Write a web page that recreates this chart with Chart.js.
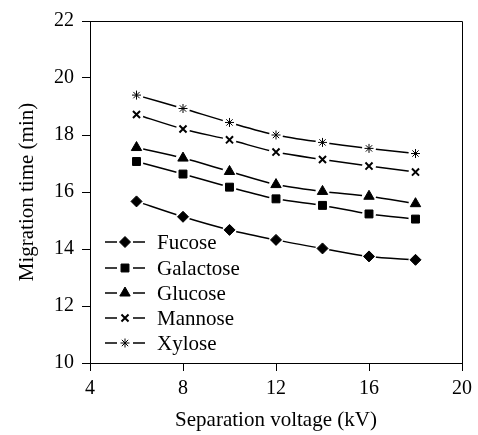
<!DOCTYPE html>
<html>
<head>
<meta charset="utf-8">
<script src="https://cdn.jsdelivr.net/npm/chart.js@4.4.0/dist/chart.umd.min.js"></script>
<style>
  html, body { margin: 0; padding: 0; background: #fff; }
  #wrap { width: 478px; height: 435px; }
</style>
</head>
<body>
<div id="wrap"><canvas id="c" width="478" height="435"></canvas></div>
<script>
const voltages = [6, 8, 10, 12, 14, 16, 18];
const fucose    = [15.67, 15.13, 14.67, 14.32, 14.02, 13.74, 13.62];
const galactose = [17.07, 16.63, 16.17, 15.76, 15.53, 15.23, 15.05];
const glucose   = [17.56, 17.19, 16.72, 16.26, 16.02, 15.85, 15.59];
const mannose   = [18.72, 18.21, 17.83, 17.40, 17.14, 16.91, 16.70];
const xylose    = [19.40, 18.93, 18.44, 18.00, 17.74, 17.53, 17.35];
const seriesNames = ['Fucose', 'Galactose', 'Glucose', 'Mannose', 'Xylose'];
const xTicks = [4, 8, 12, 16, 20];
const yTicks = [10, 12, 14, 16, 18, 20, 22];

const FONT = '"Liberation Serif", "Times New Roman", serif';

function pts(vals) { return voltages.map((v, i) => ({ x: v, y: vals[i] })); }

const styles = [
  { pointStyle: 'rectRot', radius: 5.5, bw: 1 },
  { pointStyle: 'rect', radius: 5.6, bw: 1 },
  { pointStyle: 'triangle', radius: 6, bw: 1 },
  { pointStyle: 'crossRot', radius: 5, bw: 2 },
  { pointStyle: 'star', radius: 4.5, bw: 1 }
];
const allVals = [fucose, galactose, glucose, mannose, xylose];

const lineSets = seriesNames.map((name, i) => ({
  label: name,
  data: pts(allVals[i]),
  borderColor: '#000',
  borderWidth: 1.5,
  tension: 0.3,
  pointRadius: 0,
  order: 3
}));
const haloSets = seriesNames.map((name, i) => ({
  label: name + ' halo',
  data: pts(allVals[i]),
  showLine: false,
  pointStyle: 'circle',
  pointRadius: 7,
  pointBorderWidth: 0,
  pointBackgroundColor: '#fff',
  pointBorderColor: '#fff',
  order: 2
}));
const markerSets = seriesNames.map((name, i) => ({
  label: name,
  isMarker: true,
  data: pts(allVals[i]),
  showLine: false,
  pointStyle: styles[i].pointStyle,
  pointRadius: styles[i].radius,
  pointBorderWidth: styles[i].bw,
  pointBorderColor: '#000',
  pointBackgroundColor: '#000',
  order: 1
}));

const framePlugin = {
  id: 'frameLegend',
  afterDraw(chart) {
    const { ctx, chartArea: a } = chart;
    ctx.save();
    ctx.strokeStyle = '#000';
    ctx.lineWidth = 1;
    ctx.beginPath();
    ctx.moveTo(a.left, a.top + 0.5);
    ctx.lineTo(a.right + 0.5, a.top + 0.5);
    ctx.lineTo(a.right + 0.5, a.bottom);
    ctx.stroke();

    // legend inside the plot area
    const x0 = 105, x1 = 145, tx = 157;
    const rowY = [242, 268, 293, 318, 343];
    ctx.font = '21px ' + FONT;
    ctx.textBaseline = 'middle';
    ctx.textAlign = 'left';
    chart.data.datasets.filter(d => d.isMarker).forEach((ds, i) => {
      const y = rowY[i];
      const cx = (x0 + x1) / 2;
      ctx.strokeStyle = '#000';
      ctx.lineWidth = 1.5;
      ctx.beginPath();
      ctx.moveTo(x0, y);
      ctx.lineTo(cx - 8, y);
      ctx.moveTo(cx + 8, y);
      ctx.lineTo(x1, y);
      ctx.stroke();
      ctx.fillStyle = '#000';
      ctx.strokeStyle = '#000';
      ctx.lineWidth = ds.pointBorderWidth;
      Chart.helpers.drawPoint(ctx, { pointStyle: ds.pointStyle, radius: ds.pointRadius, rotation: 0, borderWidth: ds.pointBorderWidth }, cx, y);
      ctx.fillStyle = '#000';
      ctx.fillText(ds.label, tx, y + 1);
    });
    ctx.restore();
  }
};

new Chart(document.getElementById('c'), {
  type: 'line',
  data: { datasets: [...lineSets, ...haloSets, ...markerSets] },
  plugins: [framePlugin],
  options: {
    responsive: false,
    animation: false,
    layout: { padding: { top: 21, right: 12, left: 0, bottom: 0 } },
    plugins: { legend: { display: false }, tooltip: { enabled: false } },
    scales: {
      x: {
        type: 'linear',
        min: 4, max: 20,
        afterFit(s) { s.height = 72; },
        afterBuildTicks(s) { s.ticks = xTicks.map(v => ({ value: v })); },
        grid: { display: true, drawOnChartArea: false, drawTicks: true, tickLength: 8, tickColor: '#000', tickWidth: 1 },
        border: { display: true, color: '#000', width: 1 },
        ticks: { color: '#000', font: { family: FONT, size: 20 }, padding: 6, maxRotation: 0 },
        title: { display: true, text: 'Separation voltage (kV)', color: '#000', font: { family: FONT, size: 21 }, padding: { top: 0, bottom: 2 } }
      },
      y: {
        type: 'linear',
        min: 10, max: 22,
        afterFit(s) { s.width = 90; },
        afterBuildTicks(s) { s.ticks = yTicks.map(v => ({ value: v })); },
        grid: { display: true, drawOnChartArea: false, drawTicks: true, tickLength: 8, tickColor: '#000', tickWidth: 1 },
        border: { display: true, color: '#000', width: 1 },
        ticks: { color: '#000', font: { family: FONT, size: 20 }, padding: 8 },
        title: { display: true, text: 'Migration time (min)', color: '#000', font: { family: FONT, size: 21 }, padding: { top: 15, bottom: 0 } }
      }
    }
  }
});
</script>
</body>
</html>
